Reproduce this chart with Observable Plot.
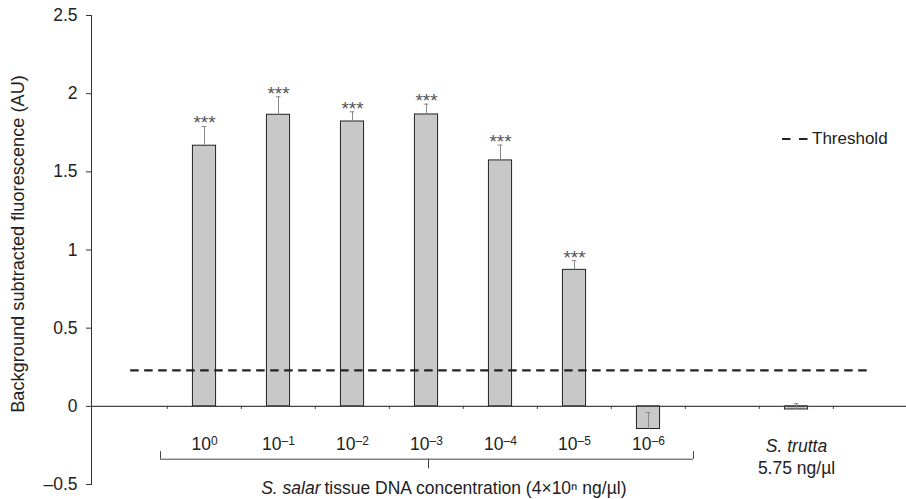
<!DOCTYPE html>
<html>
<head>
<meta charset="utf-8">
<script src="https://cdn.jsdelivr.net/npm/d3@7"></script>
<script src="https://cdn.jsdelivr.net/npm/@observablehq/plot@0.6"></script>
<style>
  html, body { margin: 0; padding: 0; background: #fff; }
  #wrap { position: relative; width: 906px; height: 499px; font-family: "Liberation Sans", Arial, sans-serif; }
  #legend { position: absolute; left: 782px; top: 129px; display: flex; align-items: center; font-size: 17px; color: #222; }
  #legend svg { margin-right: 4px; }
</style>
</head>
<body>
<div id="wrap">
  <div id="chart"></div>
  <div id="legend">
    <svg width="26" height="6"><line x1="0" y1="3" x2="26" y2="3" stroke="#222" stroke-width="2.2" stroke-dasharray="8.5,8.5"/></svg>
    <span>Threshold</span>
  </div>
</div>
<script>
// ---- data ----
const categories = ["10⁰", "10⁻¹", "10⁻²", "10⁻³", "10⁻⁴", "10⁻⁵", "10⁻⁶", "S. trutta"];
const means      = [1.667, 1.865, 1.822, 1.867, 1.573, 0.873, -0.145, -0.020];
const errors     = [0.123, 0.115, 0.062, 0.066, 0.098, 0.059, 0.105, 0.037];
const stars      = ["***", "***", "***", "***", "***", "***", "", ""];
const threshold  = 0.23;
const yTicks     = [-0.5, 0, 0.5, 1, 1.5, 2, 2.5];
const salarLabels = categories.slice(0, 7);
const truttaName = "S. trutta";
const truttaDose = "5.75 ng/µl";
const yTitle = "Background subtracted fluorescence (AU)";
const xTitleItalic = "S. salar";
const xTitleRest = "tissue DNA concentration (4×10ⁿ ng/µl)";

// x slots: empty slot, 7 S. salar dilutions, empty slot, S. trutta, empty slot
const xDomain = [" a", ...salarLabels, " b", truttaName, " c"];
const data = categories.map((c, i) => ({cat: c, mean: means[i], err: errors[i], star: stars[i]}));

const W = 906, H = 499;
const bw = (909 - 91) / xDomain.length;
const barW = 23.5, capW = 5;
const ink = "#222";

const plot = Plot.plot({
  width: W,
  height: H,
  marginLeft: 91,
  marginRight: 0,
  marginTop: 15,
  marginBottom: 15,
  style: {fontFamily: "'Liberation Sans', Arial, sans-serif", fontSize: "17px", color: ink, background: "white"},
  x: {type: "band", domain: xDomain, range: [91, 909], padding: 0, axis: null},
  y: {domain: [-0.5, 2.5], axis: null},
  marks: [
    // y axis
    Plot.frame({anchor: "left", stroke: "#333"}),
    Plot.axisY(yTicks, {
      tickSize: 5, tickPadding: 9, fontSize: 17.5, stroke: "#333", fill: ink,
      tickFormat: d => d < 0 ? "–" + Math.abs(d) : String(d), label: null
    }),
    Plot.text([yTitle], {frameAnchor: "left", textAnchor: "middle", lineAnchor: "middle", dx: -73, dy: -6, rotate: -90, fontSize: 18.2, fill: ink}),
    // bars
    Plot.barY(data, {x: "cat", y: "mean", fill: "#c8c8c8", stroke: "#222", strokeWidth: 1,
      insetLeft: (bw - barW) / 2, insetRight: (bw - barW) / 2}),
    // zero baseline and slot ticks
    Plot.ruleY([0], {stroke: "#444", strokeWidth: 1.2}),
    Plot.ruleX(xDomain.slice(1), {x: d => d, dx: -bw / 2, y1: 0, y2: -0.02, stroke: "#444"}),
    // error bars
    Plot.ruleX(data, {x: "cat", y1: "mean", y2: d => d.mean + d.err, stroke: "#888", strokeWidth: 1}),
    Plot.tickY(data, {x: "cat", y: d => d.mean + d.err, stroke: "#888", strokeWidth: 1,
      insetLeft: (bw - capW) / 2, insetRight: (bw - capW) / 2}),
    // significance stars
    Plot.text(data, {x: "cat", y: d => d.mean + d.err, text: "star", lineAnchor: "bottom", dy: 3,
      fontSize: 19, fill: "#555"}),
    // threshold
    Plot.ruleY([threshold], {x1: () => xDomain[0], x2: () => xDomain[xDomain.length - 1],
      insetLeft: bw / 2, insetRight: bw / 2, stroke: ink, strokeWidth: 2.2, strokeDasharray: "8.5,5.5"}),
    // tick labels
    Plot.text(salarLabels, {x: d => d, y: 0, dy: 38, lineAnchor: "middle", fontSize: 17.5, fill: ink}),
    Plot.text([truttaName], {x: d => d, y: 0, dy: 40, lineAnchor: "middle", fontSize: 17.5, fontStyle: "italic", fill: ink}),
    Plot.text([truttaName], {x: d => d, y: 0, dy: 62, lineAnchor: "middle", fontSize: 17.5, fill: ink, text: () => truttaDose}),
    // brace under the S. salar group
    Plot.ruleY([-0.338], {y: d => d, x1: () => salarLabels[0], x2: () => salarLabels[6],
      insetLeft: -7, insetRight: -8, stroke: "#444"}),
    Plot.ruleX([salarLabels[0]], {x: d => d, dx: -44, y1: -0.338, y2: -0.29, stroke: "#444"}),
    Plot.ruleX([salarLabels[6]], {x: d => d, dx: 45, y1: -0.338, y2: -0.29, stroke: "#444"}),
    Plot.ruleX([salarLabels[3]], {x: d => d, dx: 2, y1: -0.338, y2: -0.40, stroke: "#444"}),
    // x title
    Plot.text([xTitleItalic], {x: () => salarLabels[3], y: 0, dy: 82, dx: -106, textAnchor: "end",
      lineAnchor: "middle", fontSize: 17.5, fontStyle: "italic", fill: ink}),
    Plot.text([xTitleRest], {x: () => salarLabels[3], y: 0, dy: 82, dx: -102, textAnchor: "start",
      lineAnchor: "middle", fontSize: 17.5, fill: ink})
  ]
});

// typeset the superscript exponents of the dilution labels as real superscripts
const supMap = {"⁰": "0", "¹": "1", "²": "2", "³": "3", "⁴": "4", "⁵": "5", "⁶": "6", "⁻": "–"};
d3.select(plot).selectAll("text").each(function () {
  const el = d3.select(this);
  if (el.selectAll("tspan").size() > 0) return;
  const t = this.textContent;
  const m = t.match(/^10([⁰¹²³⁴⁵⁶⁻]+)$/);
  if (!m) return;
  const exp = Array.from(m[1]).map(c => supMap[c]).join("");
  el.text(null);
  el.append("tspan").text("10");
  el.append("tspan").attr("dy", "-0.45em").attr("font-size", "12px").text(exp);
});

document.getElementById("chart").appendChild(plot);
</script>
</body>
</html>
